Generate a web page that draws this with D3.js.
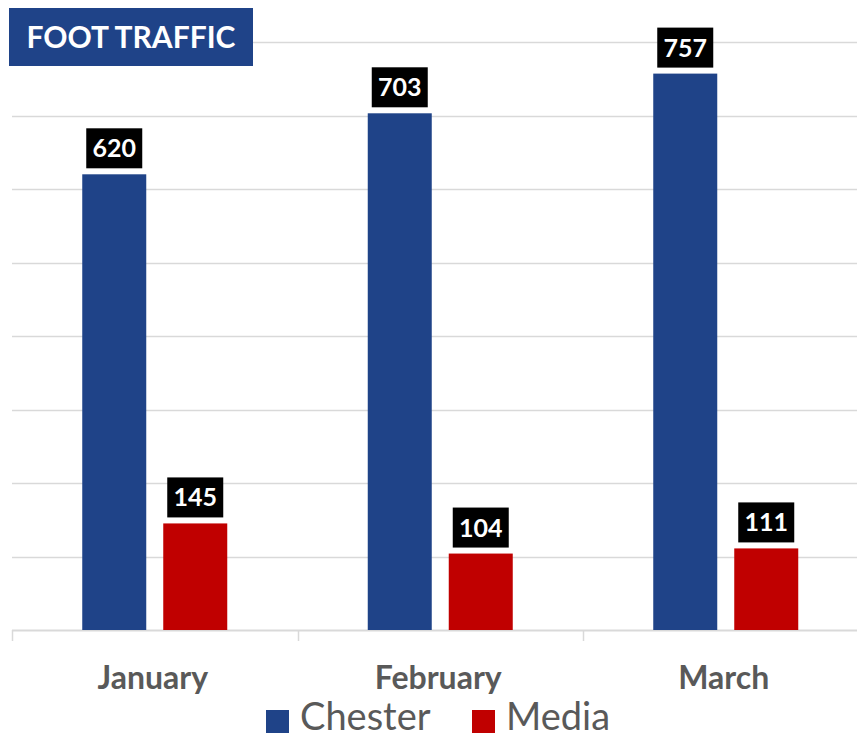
<!DOCTYPE html>
<html>
<head>
<meta charset="utf-8">
<script src="https://cdn.jsdelivr.net/npm/d3@7"></script>
<style>
  body { margin: 0; background: #fff; }
  svg { display: block; font-family: Lato, "Open Sans", sans-serif; }
</style>
</head>
<body>
<div id="chart"></div>
<script>
var months = ["January", "February", "March"];
var seriesNames = ["Chester", "Media"];
var chester = [620, 703, 757];
var media = [145, 104, 111];
var yTicks = [0, 100, 200, 300, 400, 500, 600, 700, 800];
var colors = ["#1F4388", "#C00000"];

var width = 857, height = 740;
var margin = {left: 12};
var baseY = 630;

var svg = d3.select("#chart").append("svg")
  .attr("width", width)
  .attr("height", height);

// last band runs past the right edge, like the original
var x = d3.scaleBand()
  .domain(months)
  .range([margin.left, 868.5]);

var y = d3.scaleLinear()
  .domain([0, 800])
  .range([baseY, 42]);

var data = months.map(function(m, i) {
  return {month: m, values: [chester[i], media[i]]};
});

// gridlines
svg.append("g").selectAll("line")
  .data(yTicks.slice(1))
  .enter().append("line")
  .attr("x1", margin.left).attr("x2", width)
  .attr("y1", function(d) { return Math.round(y(d)) + 0.5; })
  .attr("y2", function(d) { return Math.round(y(d)) + 0.5; })
  .attr("stroke", "#d9d9d9")
  .attr("stroke-width", 1.5);

// x axis
var xAxis = svg.append("g")
  .attr("transform", "translate(0," + baseY + ")");
xAxis.append("line")
  .attr("x1", margin.left).attr("x2", width)
  .attr("y1", 0.5).attr("y2", 0.5)
  .attr("stroke", "#d9d9d9").attr("stroke-width", 2);
xAxis.selectAll(".tk")
  .data(months)
  .enter().append("line")
  .attr("x1", function(d) { return Math.round(x(d)) + 0.5; })
  .attr("x2", function(d) { return Math.round(x(d)) + 0.5; })
  .attr("y1", 0).attr("y2", 11)
  .attr("stroke", "#d9d9d9").attr("stroke-width", 1.5);
xAxis.selectAll("text")
  .data(months)
  .enter().append("text")
  .attr("x", function(d) { return x(d) + x.bandwidth() / 2 - 2; })
  .attr("y", 59)
  .attr("text-anchor", "middle")
  .attr("fill", "#595959")
  .style("font-size", "32px")
  .style("font-weight", "bold")
  .text(function(d) { return d; });

// bars
var barW = 64, gap = 17;
var groups = svg.selectAll(".grp")
  .data(data)
  .enter().append("g")
  .attr("transform", function(d) {
    return "translate(" + (x(d.month) + x.bandwidth() / 2 - (barW * 2 + gap) / 2) + ",0)";
  });

groups.selectAll("rect")
  .data(function(d) { return d.values; })
  .enter().append("rect")
  .attr("x", function(d, i) { return i * (barW + gap); })
  .attr("y", function(d) { return y(d); })
  .attr("width", barW)
  .attr("height", function(d) { return baseY - y(d); })
  .attr("fill", function(d, i) { return colors[i]; });

// value labels
var lbl = groups.selectAll(".lbl")
  .data(function(d) { return d.values; })
  .enter().append("g")
  .attr("transform", function(d, i) {
    return "translate(" + (i * (barW + gap) + barW / 2) + "," + (y(d) - 6) + ")";
  });
lbl.append("rect")
  .attr("x", -28).attr("y", -40)
  .attr("width", 56).attr("height", 40)
  .attr("fill", "#000");
lbl.append("text")
  .attr("y", -11)
  .attr("text-anchor", "middle")
  .attr("fill", "#fff")
  .style("font-size", "25px")
  .style("font-weight", "bold")
  .text(function(d) { return d; });

// title
svg.append("rect")
  .attr("x", 9).attr("y", 8)
  .attr("width", 244).attr("height", 58)
  .attr("fill", "#1F4388");
svg.append("text")
  .attr("x", 131).attr("y", 48)
  .attr("text-anchor", "middle")
  .attr("fill", "#fff")
  .style("font-size", "30px")
  .style("font-weight", "bold")
  .text("FOOT TRAFFIC");

// legend
var legX = [266, 472];
var leg = svg.selectAll(".leg")
  .data(seriesNames)
  .enter().append("g")
  .attr("transform", function(d, i) { return "translate(" + legX[i] + ",710)"; });
leg.append("rect")
  .attr("width", 23).attr("height", 23)
  .attr("fill", function(d, i) { return colors[i]; });
leg.append("text")
  .attr("x", 34).attr("y", 20)
  .attr("fill", "#595959")
  .style("font-size", "38px")
  .text(function(d) { return d; });
</script>
</body>
</html>
